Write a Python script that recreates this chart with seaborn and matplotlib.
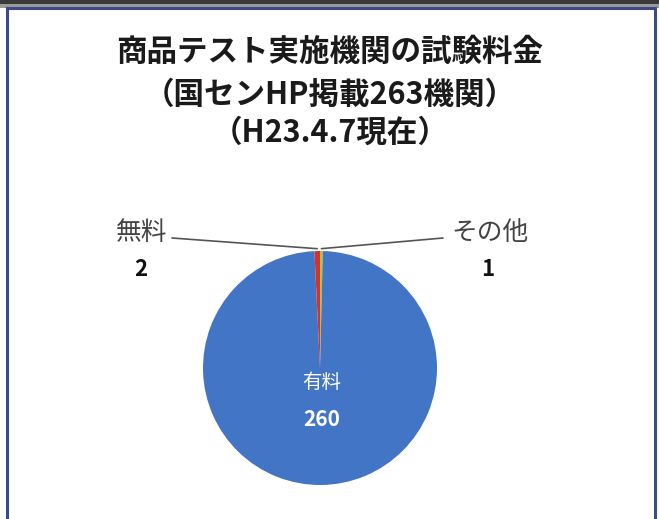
import matplotlib
matplotlib.use("Agg")
import matplotlib.pyplot as plt
import seaborn as sns
import numpy as np
from matplotlib.patches import Rectangle

sns.set_theme(style="white")
plt.rcParams['font.family'] = ['Noto Sans CJK JP', 'DejaVu Sans']

# Data (clockwise from 12 o'clock)
categories = ["その他", "有料", "無料"]
values = [1, 260, 2]
colors = ["#B5C23A", "#4275C5", "#D0352B"]
title_lines = ["商品テスト実施機関の試験料金", "（国センHP掲載263機関）", "（H23.4.7現在）"]

W, H = 659, 519
fig = plt.figure(figsize=(W / 100, H / 100), dpi=100)
fig.patch.set_facecolor("white")

# window frame
fig.patches.append(Rectangle((0, 1 - 4 / H), 1, 4 / H, transform=fig.transFigure,
                             facecolor="#3a3a3a", edgecolor="none", zorder=-2))
fig.patches.append(Rectangle((0, 1 - 8 / H), 1, 4 / H, transform=fig.transFigure,
                             facecolor="#9a9a9a", edgecolor="none", zorder=-2))
fig.patches.append(Rectangle((7 / W, -0.01), (655 - 7) / W, (H - 8) / H + 0.01,
                             transform=fig.transFigure, facecolor="white",
                             edgecolor="#3d4a8a", linewidth=2.2, zorder=-1))

cx, cy, r = 320, 368, 117
ax = fig.add_axes([(cx - r) / W, (H - cy - r) / H, 2 * r / W, 2 * r / H])
ax.set_zorder(1)
wedges, _ = ax.pie(values, colors=colors, startangle=90, counterclock=False,
                   wedgeprops=dict(linewidth=0))
ax.set_xlim(-1, 1)
ax.set_ylim(-1, 1)
ax.set_aspect("equal")
ax.axis("off")

def px(x, y):
    return ((x - cx) / r, (cy - y) / r)

label_pos = {"無料": (142, 233), "その他": (490, 233)}
num_x = {"無料": 141, "その他": 488}
line_start = {"無料": (172, 238), "その他": (443, 238)}
for w, cat, val in zip(wedges, categories, values):
    if cat == "有料":
        x, y = px(322, 383)
        ax.text(x, y, cat, ha="center", va="center", color="white", fontsize=14)
        x, y = px(322, 420)
        ax.text(x, y, str(val), ha="center", va="center", color="white",
                fontsize=15, fontweight="bold")
        continue
    ang = np.deg2rad((w.theta1 + w.theta2) / 2)
    ex, ey = 1.02 * np.cos(ang), 1.02 * np.sin(ang)
    sx, sy = px(*line_start[cat])
    ax.plot([sx, ex], [sy, ey], color="#555555", lw=1.2, clip_on=False)
    lx, ly = px(*label_pos[cat])
    ax.text(lx, ly, cat, ha="center", va="center", color="#444444", fontsize=18.5,
            clip_on=False)
    lx, ly = px(num_x[cat], 270)
    ax.text(lx, ly, str(val), ha="center", va="center", color="#111111",
            fontsize=16, fontweight="bold", clip_on=False)

for line, y in zip(title_lines, [52, 95, 133]):
    fig.text(330 / W, 1 - y / H, line, ha="center", va="center", fontsize=22,
             fontweight="bold", color="#1a1a1a")

fig.savefig("out.png", dpi=100)
